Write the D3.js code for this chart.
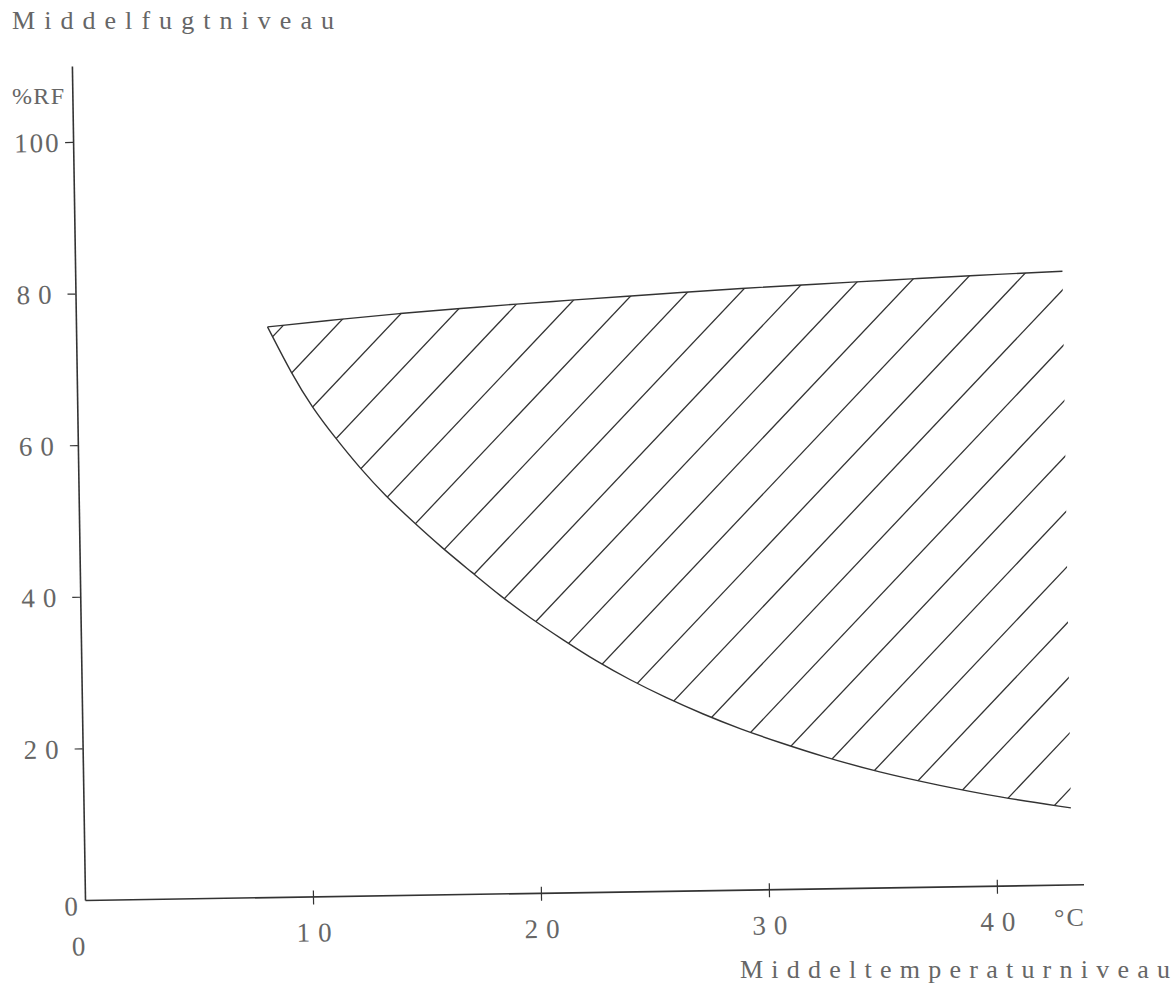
<!DOCTYPE html>
<html>
<head>
<meta charset="utf-8">
<script src="https://cdn.jsdelivr.net/npm/d3@7"></script>
<style>
  html, body { margin: 0; padding: 0; background: #fff; }
  svg { display: block; }
  text { font-family: "Liberation Serif", "DejaVu Serif", serif; fill: #666; }
</style>
</head>
<body>
<svg id="chart" width="1173" height="983"></svg>
<script>
// Upper boundary of the region: mean temperature (°C) -> mean relative humidity (%RF)
const upperTemp = [8.4, 11.7, 14.2, 16.7, 19.4, 21.7, 24.2, 26.7, 29.2, 31.7, 34.0, 36.7, 39.2, 43.3];
const upperRH   = [75.2, 76.1, 76.7, 77.2, 77.7, 78.1, 78.5, 78.9, 79.3, 79.6, 79.9, 80.2, 80.5, 80.9];

// Lower boundary of the region
const lowerTemp = [8.4, 9.45, 10.3, 11.3, 12.35, 13.45, 14.65, 15.9, 17.2, 18.4, 19.7, 21.15, 22.6, 24.05, 25.6, 27.25, 28.85, 30.6, 32.45, 34.9, 37.6, 40.1, 43.3];
const lowerRH   = [75.2, 68.8, 64.5, 60.4, 56.4, 52.7, 49.2, 45.7, 42.4, 39.3, 36.3, 33.3, 30.4, 27.9, 25.5, 23.2, 21.2, 19.3, 17.4, 15.2, 13.3, 11.7, 10.1];

// Axis ticks and labels
const xTicks = [10, 20, 30, 40];
const yTicks = [20, 40, 60, 80, 100];
const xTitle = "Middeltemperaturniveau";
const yTitle = "Middelfugtniveau";
const yUnit = "%RF";
const xUnit = "°C";

const svg = d3.select("#chart");
const ink = "#333";

// Plot frame: origin of the axes, slightly tilted like the drawn sheet
const g = svg.append("g").attr("transform", "translate(85,900) rotate(-0.9)");

const x = d3.scaleLinear().domain([0, 43.8]).range([0, 998.6]);
const y = d3.scaleLinear().domain([0, 110]).range([0, -834]);

// Y axis
const yAxis = g.append("g")
  .call(d3.axisLeft(y).tickValues(yTicks).tickSize(8).tickSizeOuter(0).tickFormat(d3.format("d")));
yAxis.select(".domain").attr("stroke", ink).attr("stroke-width", 1.6);
yAxis.selectAll(".tick line").attr("stroke", ink).attr("stroke-width", 1.2);
yAxis.selectAll(".tick text")
  .attr("x", -59).attr("text-anchor", "start").attr("dy", "0.34em")
  .style("font-family", "Liberation Serif").style("font-size", "27px")
  .style("letter-spacing", d => d >= 100 ? "2px" : "8px").attr("fill", "#666");

// X axis
const xAxis = g.append("g")
  .call(d3.axisBottom(x).tickValues(xTicks).tickSize(8).tickSizeOuter(0).tickFormat(d3.format("d")));
xAxis.select(".domain").attr("stroke", ink).attr("stroke-width", 1.6);
xAxis.selectAll(".tick line").attr("stroke", ink).attr("stroke-width", 1.2).attr("y1", -6).attr("y2", 8);
xAxis.selectAll(".tick text")
  .attr("y", 36).attr("dy", "0.34em").attr("dx", "4px")
  .style("font-family", "Liberation Serif").style("font-size", "27px")
  .style("letter-spacing", "8px").attr("fill", "#666");

// Zero labels at the origin
g.append("text").attr("x", -14).attr("y", 6).attr("dy", "0.34em").attr("text-anchor", "middle")
  .style("font-size", "27px").text("0");
g.append("text").attr("x", -7).attr("y", 46).attr("dy", "0.34em").attr("text-anchor", "middle")
  .style("font-size", "27px").text("0");

// Region boundaries
const upperPts = upperTemp.map((t, i) => [x(t), y(upperRH[i])]);
const lowerPts = lowerTemp.map((t, i) => [x(t), y(lowerRH[i])]);
const curve = d3.line().curve(d3.curveBasis);

// Clip outline: upper boundary left to right, then lower boundary back
const outline = curve(upperPts) + "L" + curve(lowerPts.slice().reverse()).slice(1) + "Z";
svg.append("defs").append("clipPath").attr("id", "region")
  .append("path").attr("d", outline);

// Hatching: parallel lines at 45.7° inside the region
const ang = 45.7 * Math.PI / 180;
const nx = Math.sin(ang), ny = Math.cos(ang);   // normal to the hatch lines
const dx = Math.cos(ang), dy = -Math.sin(ang);  // along the hatch lines
const gap = 38.7, phase = -212;
const proj = upperPts.concat(lowerPts).map(p => p[0] * nx + p[1] * ny);
const kMin = Math.floor((d3.min(proj) - phase) / gap);
const kMax = Math.ceil((d3.max(proj) - phase) / gap);
const hatch = g.append("g").attr("clip-path", "url(#region)");
hatch.selectAll("line").data(d3.range(kMin, kMax + 1)).join("line")
  .attr("x1", k => (phase + k * gap) * nx - 1500 * dx)
  .attr("y1", k => (phase + k * gap) * ny - 1500 * dy)
  .attr("x2", k => (phase + k * gap) * nx + 1500 * dx)
  .attr("y2", k => (phase + k * gap) * ny + 1500 * dy)
  .attr("stroke", ink).attr("stroke-width", 1.3);

g.append("path").attr("d", curve(upperPts)).attr("fill", "none").attr("stroke", ink).attr("stroke-width", 1.4);
g.append("path").attr("d", curve(lowerPts)).attr("fill", "none").attr("stroke", ink).attr("stroke-width", 1.4);

// Titles and units
svg.append("text").attr("x", 12).attr("y", 29).style("font-size", "26px")
  .attr("textLength", 322).attr("lengthAdjust", "spacing").text(yTitle);
svg.append("text").attr("x", 12).attr("y", 104).style("font-size", "24px")
  .attr("textLength", 52).attr("lengthAdjust", "spacing").text(yUnit);
svg.append("text").attr("x", 1054).attr("y", 926).style("font-size", "26px")
  .style("letter-spacing", "2px").text(xUnit);
svg.append("text").attr("x", 740).attr("y", 978).style("font-size", "26px")
  .attr("textLength", 430).attr("lengthAdjust", "spacing").text(xTitle);
</script>
</body>
</html>
